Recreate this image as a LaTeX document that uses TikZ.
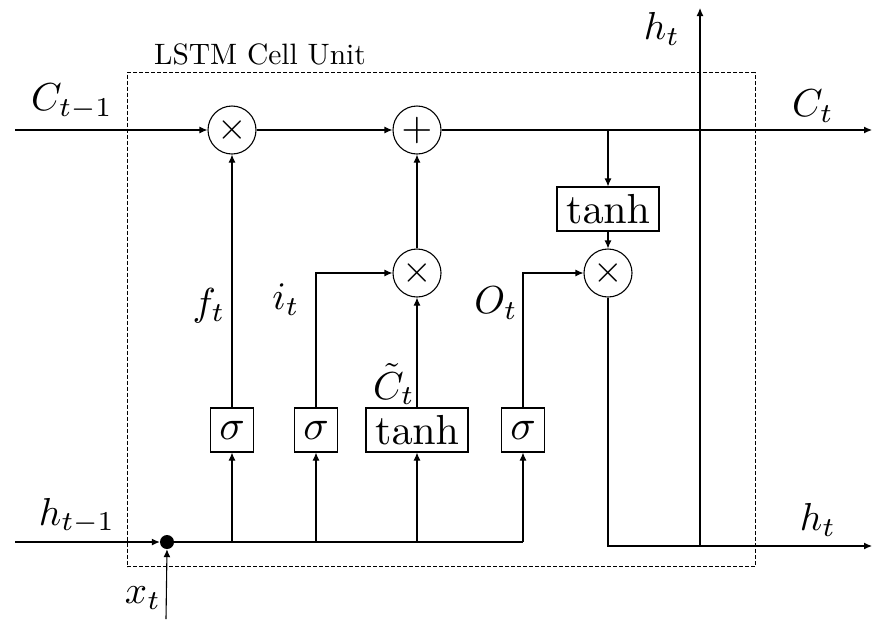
\documentclass[tikz,border=0pt]{standalone}
\usetikzlibrary{arrows.meta}
\newcommand{\lblS}[1]{\scalebox{3.9}{$#1$}}
\newcommand{\gateS}[1]{\scalebox{4.2}{$#1$}}
\newcommand{\timesS}{\scalebox{3.8}{$\times$}}
\newcommand{\plusS}{\scalebox{4.0}{$+$}}
\begin{document}
\begin{tikzpicture}[x=1pt,y=-1pt]
\tikzset{
  wire/.style={line width=1.1pt},
  arr/.style={wire,-{Latex[length=8pt,width=7pt]}},
  op/.style={circle,draw,line width=1.1pt,minimum size=48pt,inner sep=0pt},
  gate/.style={draw,line width=1.1pt,minimum height=44pt,minimum width=42pt,inner xsep=9pt,inner ysep=1pt},
  lbl/.style={inner sep=0pt},
  cellbox/.style={draw,line width=0.9pt,dash pattern=on 4pt off 2pt},
}
\useasboundingbox (0,0) rectangle (874,619);
% cell frame
\node[cellbox,minimum width=628pt,minimum height=494pt,inner sep=0pt] (cell) at (441,319.5) {};
\node[inner sep=0pt] (title) at (260,54) {\scalebox{2.95}{LSTM Cell Unit}};
% operators
\node[op] (m1) at (232,130) {\timesS};
\node[op] (p) at (417,130) {\plusS};
\node[op] (m2) at (417,273) {\timesS};
\node[op] (m3) at (608,273) {\timesS};
% gates
\node[gate] (t1) at (608,209) {\gateS{\tanh}};
\node[gate] (s1) at (232,430) {\gateS{\sigma}};
\node[gate] (s2) at (316,430) {\gateS{\sigma}};
\node[gate] (t2) at (417,430) {\gateS{\tanh}};
\node[gate] (s3) at (523,430) {\gateS{\sigma}};
% junction dot
\node[circle,fill,inner sep=0pt,minimum size=14pt] (dot) at (167,542) {};
% coordinates
\coordinate (cin) at (15,130);
\coordinate (cout) at (872,130);
\coordinate (ctap) at (608,130);
\coordinate (hin) at (15,542);
\coordinate (xin) at (166,619);
\coordinate (b1) at (232,542);
\coordinate (b2) at (316,542);
\coordinate (b3) at (417,542);
\coordinate (b4) at (523,542);
\coordinate (hout) at (872,546);
\coordinate (hsplit) at (700,546);
\coordinate (htop) at (700,8);
% cell state line
\draw[arr] (cin) -- (m1.west);
\draw[arr] (m1.east) -- (p.west);
\draw[arr] (p.east) -- (cout);
\draw[arr] (ctap) -- (t1.north);
\draw[arr] (t1.south) -- (m3.north);
% inputs
\draw[arr] (hin) -- (dot.west);
\draw[arr] (xin) -- (dot.south);
\draw[wire] (dot.center) -- (b4);
\draw[arr] (b1) -- (s1.south);
\draw[arr] (b2) -- (s2.south);
\draw[arr] (b3) -- (t2.south);
\draw[arr] (b4) -- (s3.south);
% gate outputs
\draw[arr] (s1.north) -- (m1.south);
\draw[arr] (s2.north) |- (m2.west);
\draw[arr] (t2.north) -- (m2.south);
\draw[arr] (m2.north) -- (p.south);
\draw[arr] (s3.north) |- (m3.west);
\draw[arr] (m3.south) |- (hout);
\draw[arr] (hsplit) -- (htop);
% labels
\node[lbl] (lc1) at (72,102) {\lblS{C_{t-1}}};
\node[lbl] (lc) at (813,106) {\lblS{C_t}};
\node[lbl] (lh1) at (662,29) {\lblS{h_t}};
\node[lbl] (lh2) at (818,520) {\lblS{h_t}};
\node[lbl] (lhm) at (77,516) {\lblS{h_{t-1}}};
\node[lbl] (lx) at (143,598) {\lblS{x_t}};
\node[lbl] (lf) at (209,306) {\lblS{f_t}};
\node[lbl] (li) at (286,300) {\lblS{i_t}};
\node[lbl] (lct) at (394,384) {\lblS{\tilde{C}_t}};
\node[lbl] (lo) at (496,303) {\lblS{O_t}};
\end{tikzpicture}
\end{document}
